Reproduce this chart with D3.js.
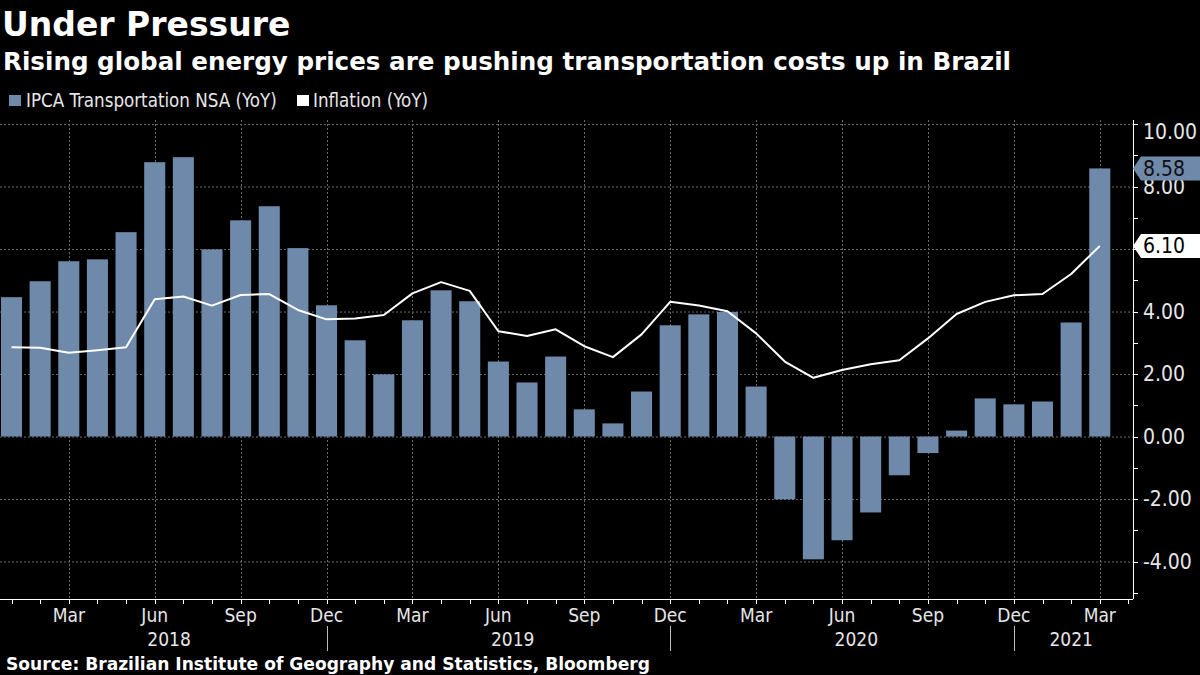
<!DOCTYPE html>
<html>
<head>
<meta charset="utf-8">
<script src="https://cdn.jsdelivr.net/npm/d3@7"></script>
<style>
  html, body { margin: 0; padding: 0; background: #000; }
  svg { display: block; }
</style>
</head>
<body>
<svg id="chart" width="1200" height="675"></svg>
<script>
// ---------------- DATA ----------------
const months = [
  "2018-01","2018-02","2018-03","2018-04","2018-05","2018-06","2018-07","2018-08","2018-09","2018-10","2018-11","2018-12",
  "2019-01","2019-02","2019-03","2019-04","2019-05","2019-06","2019-07","2019-08","2019-09","2019-10","2019-11","2019-12",
  "2020-01","2020-02","2020-03","2020-04","2020-05","2020-06","2020-07","2020-08","2020-09","2020-10","2020-11","2020-12",
  "2021-01","2021-02","2021-03"
];
const transportValues = [
  4.46, 4.97, 5.61, 5.67, 6.54, 8.78, 8.94, 5.99, 6.92, 7.37, 6.03, 4.20,
  3.08, 1.99, 3.72, 4.68, 4.33, 2.40, 1.73, 2.56, 0.87, 0.42, 1.44, 3.56,
  3.91, 3.99, 1.60, -2.01, -3.93, -3.32, -2.43, -1.24, -0.53, 0.19, 1.22, 1.03,
  1.12, 3.65, 8.58
];
const inflationValues = [
  2.86, 2.84, 2.68, 2.76, 2.86, 4.39, 4.48, 4.19, 4.53, 4.56, 4.05, 3.75,
  3.78, 3.89, 4.58, 4.94, 4.66, 3.37, 3.22, 3.43, 2.89, 2.54, 3.27, 4.31,
  4.19, 4.01, 3.30, 2.40, 1.88, 2.13, 2.31, 2.44, 3.14, 3.92, 4.31, 4.52,
  4.56, 5.20, 6.10
];
const yTicks = [-4, -2, 0, 2, 4, 6, 8, 10];
const yTickLabels = ["-4.00", "-2.00", "0.00", "2.00", "4.00", "6.00", "8.00", "10.00"];
const monthNames = ["Jan","Feb","Mar","Apr","May","Jun","Jul","Aug","Sep","Oct","Nov","Dec"];
const labeledMonths = ["Mar","Jun","Sep","Dec"];
const years = ["2018","2019","2020","2021"];
const seriesNames = ["IPCA Transportation NSA (YoY)", "Inflation (YoY)"];
const titleText = "Under Pressure";
const subtitleText = "Rising global energy prices are pushing transportation costs up in Brazil";
const sourceText = "Source: Brazilian Institute of Geography and Statistics, Bloomberg";

// ---------------- LAYOUT ----------------
const barColor = "#6f89aa";
const gridColor = "#6a6a6a";
const plotLeft = 0, plotRight = 1133, plotTop = 120, plotBottom = 599;
const condFont = "'DejaVu Sans Condensed', 'DejaVu Sans', sans-serif";
const boldFont = "'DejaVu Sans', sans-serif";

const svg = d3.select("#chart");
svg.append("rect").attr("width", 1200).attr("height", 675).attr("fill", "#000");

// x: month index scale
const x = d3.scaleLinear().domain([-0.402, 39.16]).range([plotLeft, plotRight]);
const y = d3.scaleLinear().domain([-5.2, 10.13]).range([plotBottom, plotTop]);
const step = x(1) - x(0);
const barW = step * 0.735;

const data = months.map((m, i) => ({
  i, month: m, mName: monthNames[+m.slice(5) - 1], year: m.slice(0, 4),
  t: transportValues[i], inf: inflationValues[i]
}));

// ---------------- TITLES ----------------
svg.append("text").attr("x", 2).attr("y", 36)
  .attr("fill", "#fff").attr("font-family", boldFont).attr("font-weight", "bold")
  .attr("font-size", 33).text(titleText);
svg.append("text").attr("x", 3).attr("y", 70)
  .attr("fill", "#fff").attr("font-family", boldFont).attr("font-weight", "bold")
  .attr("font-size", 24.6).text(subtitleText);

// legend
const legend = svg.append("g");
legend.append("rect").attr("x", 9).attr("y", 95).attr("width", 12).attr("height", 11).attr("fill", barColor);
legend.append("text").attr("x", 26).attr("y", 107).attr("fill", "#e6e6e6")
  .attr("font-family", condFont).attr("font-size", 18.6).text(seriesNames[0]);
legend.append("rect").attr("x", 297).attr("y", 95).attr("width", 12).attr("height", 11).attr("fill", "#fff");
legend.append("text").attr("x", 313).attr("y", 107).attr("fill", "#e6e6e6")
  .attr("font-family", condFont).attr("font-size", 18.6).text(seriesNames[1]);

// ---------------- GRID ----------------
const grid = svg.append("g");
grid.selectAll("line.h").data(yTicks).join("line")
  .attr("x1", plotLeft).attr("x2", plotRight)
  .attr("y1", d => y(d) + 0.5).attr("y2", d => y(d) + 0.5)
  .attr("stroke", gridColor).attr("stroke-width", 1).attr("stroke-dasharray", "2,2");
const gridMonths = data.filter(d => labeledMonths.includes(d.mName));
grid.selectAll("line.v").data(gridMonths).join("line")
  .attr("x1", d => Math.round(x(d.i)) + 0.5).attr("x2", d => Math.round(x(d.i)) + 0.5)
  .attr("y1", plotTop).attr("y2", plotBottom)
  .attr("stroke", gridColor).attr("stroke-width", 1).attr("stroke-dasharray", "2,2");

// ---------------- BARS ----------------
svg.append("g").selectAll("rect").data(data).join("rect")
  .attr("x", d => x(d.i) - barW / 2)
  .attr("width", barW)
  .attr("y", d => y(Math.max(0, d.t)))
  .attr("height", d => Math.abs(y(d.t) - y(0)))
  .attr("fill", barColor);

// ---------------- LINE ----------------
const line = d3.line().x(d => x(d.i)).y(d => y(d.inf));
svg.append("path").datum(data).attr("d", line)
  .attr("fill", "none").attr("stroke", "#fff").attr("stroke-width", 2)
  .attr("stroke-linejoin", "round");

// ---------------- X AXIS ----------------
const xAxisG = svg.append("g").attr("transform", `translate(0,${plotBottom})`);
xAxisG.append("line").attr("x1", plotLeft).attr("x2", plotRight).attr("y1", 0.5).attr("y2", 0.5)
  .attr("stroke", "#fff").attr("stroke-width", 1);
const tickIdx = d3.range(0, 40);
xAxisG.selectAll("line.tick").data(tickIdx).join("line")
  .attr("x1", d => Math.round(x(d)) + 0.5).attr("x2", d => Math.round(x(d)) + 0.5)
  .attr("y1", 0).attr("y2", 5).attr("stroke", "#fff").attr("stroke-width", 1);
xAxisG.selectAll("text.m").data(gridMonths).join("text")
  .attr("x", d => x(d.i)).attr("y", 23)
  .attr("text-anchor", "middle").attr("fill", "#e6e6e6")
  .attr("font-family", condFont).attr("font-size", 19).text(d => d.mName);
// year labels
years.forEach(yr => {
  const ds = data.filter(d => d.year === yr);
  const cx = (x(ds[0].i) + x(ds[ds.length - 1].i)) / 2;
  xAxisG.append("text").attr("x", cx).attr("y", 47)
    .attr("text-anchor", "middle").attr("fill", "#e6e6e6")
    .attr("font-family", condFont).attr("font-size", 19).text(yr);
});
// year separators at December
data.filter(d => d.mName === "Dec").forEach(d => {
  xAxisG.append("line")
    .attr("x1", Math.round(x(d.i)) + 0.5).attr("x2", Math.round(x(d.i)) + 0.5)
    .attr("y1", 27).attr("y2", 52).attr("stroke", "#bbb").attr("stroke-width", 1);
});

// ---------------- Y AXIS ----------------
const yAxisG = svg.append("g").attr("transform", `translate(${plotRight},0)`);
yAxisG.append("line").attr("x1", 0.5).attr("x2", 0.5).attr("y1", plotTop).attr("y2", plotBottom)
  .attr("stroke", "#fff").attr("stroke-width", 1);
const minorTicks = d3.range(-5, 11);
yAxisG.selectAll("line.mt").data(minorTicks).join("line")
  .attr("x1", 0).attr("x2", 5)
  .attr("y1", d => Math.round(y(d)) + 0.5).attr("y2", d => Math.round(y(d)) + 0.5)
  .attr("stroke", "#fff").attr("stroke-width", 1);
yAxisG.selectAll("text.yl").data(yTicks).join("text")
  .attr("x", 10).attr("y", d => Math.max(y(d), 132))
  .attr("dy", "0.35em").attr("fill", "#e6e6e6")
  .attr("font-family", condFont).attr("font-size", 21)
  .text((d, i) => yTickLabels[i]);

// ---------------- VALUE FLAGS ----------------
function flag(value, fill, textFill) {
  const cy = y(value);
  const h = 24, x0 = plotRight, w = 1200 - x0;
  const g = svg.append("g");
  g.append("path")
    .attr("d", `M${x0},${cy} L${x0 + 8},${cy - h / 2} L${x0 + w},${cy - h / 2} L${x0 + w},${cy + h / 2} L${x0 + 8},${cy + h / 2} Z`)
    .attr("fill", fill);
  g.append("text").attr("x", x0 + 10).attr("y", cy).attr("dy", "0.36em")
    .attr("fill", textFill).attr("font-family", condFont).attr("font-size", 21)
    .text(value.toFixed(2));
}
flag(transportValues[transportValues.length - 1], barColor, "#111");
flag(inflationValues[inflationValues.length - 1], "#fff", "#000");

// ---------------- SOURCE ----------------
svg.append("text").attr("x", 6).attr("y", 670)
  .attr("fill", "#fff").attr("font-family", boldFont).attr("font-weight", "bold")
  .attr("font-size", 17.1).text(sourceText);
</script>
</body>
</html>
